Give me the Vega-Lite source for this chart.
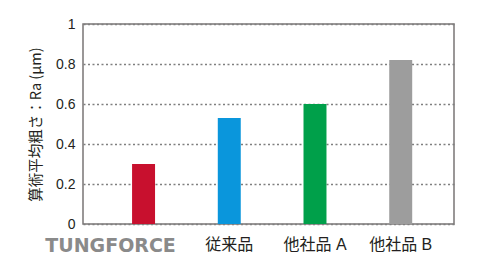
{
  "$schema": "https://vega.github.io/schema/vega-lite/v6.json",
  "autosize": "none",
  "width": 371,
  "height": 200,
  "padding": {"left": 83, "top": 24, "right": 34, "bottom": 52},
  "background": "white",
  "config": {
    "view": {"stroke": "#7a7676", "strokeWidth": 1.5},
    "font": "Liberation Sans, Noto Sans CJK JP"
  },
  "data": {
    "values": [
      {"product": "TUNGFORCE", "ra": 0.30},
      {"product": "従来品", "ra": 0.53},
      {"product": "他社品 A", "ra": 0.60},
      {"product": "他社品 B", "ra": 0.82}
    ]
  },
  "mark": {"type": "bar"},
  "encoding": {
    "x": {
      "field": "product",
      "type": "nominal",
      "sort": null,
      "scale": {"paddingInner": 0.732, "paddingOuter": 0.53, "align": 0.54},
      "axis": {
        "title": null,
        "domain": false,
        "ticks": false,
        "labelAngle": 0,
        "labelPadding": 12,
        "labelFont": {"condition": {"test": "datum.value == 'TUNGFORCE'", "value": "DejaVu Sans"}, "value": "Liberation Sans, Noto Sans CJK JP"},
        "labelColor": {"condition": {"test": "datum.value == 'TUNGFORCE'", "value": "#8a8a8a"}, "value": "#231f20"},
        "labelFontWeight": {"condition": {"test": "datum.value == 'TUNGFORCE'", "value": "bold"}, "value": "normal"},
        "labelFontSize": {"condition": {"test": "datum.value == 'TUNGFORCE'", "value": 19}, "value": 16},
        "labelOffset": {"condition": {"test": "datum.value == 'TUNGFORCE'", "value": -33}, "value": 0}
      }
    },
    "y": {
      "field": "ra",
      "type": "quantitative",
      "scale": {"domain": [0, 1], "nice": false},
      "axis": {
        "title": "算術平均粗さ：Ra (μm)",
        "titleFont": "Noto Sans CJK JP",
        "titleFontSize": 14.5,
        "titleFontWeight": "normal",
        "titleColor": "#231f20",
        "titlePadding": 12,
        "values": [0, 0.2, 0.4, 0.6, 0.8, 1],
        "format": "~g",
        "domain": false,
        "ticks": false,
        "labelFontSize": 14,
        "labelColor": "#231f20",
        "labelPadding": 8,
        "gridColor": "#7f7f7f",
        "gridDash": [2, 2.5],
        "gridWidth": 1.3
      }
    },
    "color": {
      "field": "product",
      "type": "nominal",
      "sort": null,
      "scale": {"range": ["#c8102e", "#0a96dc", "#00a04a", "#9d9d9d"]},
      "legend": null
    }
  }
}
